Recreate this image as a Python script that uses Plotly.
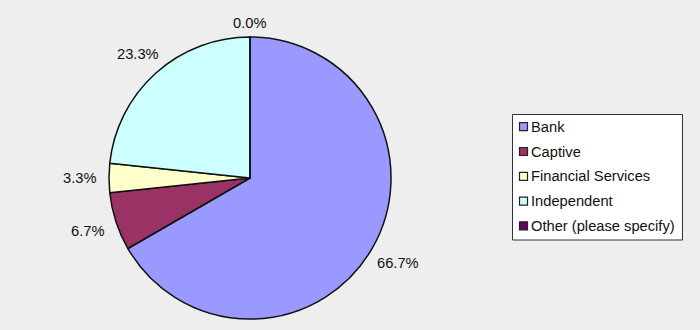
import math
import plotly.graph_objects as go

categories = ["Bank", "Captive", "Financial Services", "Independent", "Other (please specify)"]
counts = [20, 2, 1, 7, 0]
colors = ["#9999FF", "#993366", "#FFFFCC", "#CCFFFF", "#660066"]

W, H = 700, 330
cx, cy, R = 250, 178, 141  # pixel centre/radius of the pie
FONT = "Liberation Sans, Arial, sans-serif"
FS = 14.7

fig = go.Figure()
fig.add_trace(go.Pie(
    labels=categories,
    values=counts,
    marker=dict(colors=colors, line=dict(color="#111111", width=1.5)),
    sort=False,
    direction="clockwise",
    rotation=0,
    textinfo="none",
    hoverinfo="label+percent",
    domain=dict(x=[(cx - R) / W, (cx + R) / W], y=[(H - cy - R) / H, (H - cy + R) / H]),
    showlegend=False,
))

# percentage labels placed outside each slice, derived from the data
total = sum(counts)
cum = 0
annotations = []
for c in counts:
    frac = c / total
    mid = (cum + frac / 2) * 2 * math.pi
    cum += frac
    s, co = math.sin(mid), math.cos(mid)
    r = R + 10 + abs(s) * 20 + abs(co) * 4
    px = cx + r * s
    py = (H - cy) + r * co
    annotations.append(dict(
        x=px / W, y=py / H, xref="paper", yref="paper",
        text=f"{frac * 100:.1f}%", showarrow=False,
        xanchor="center", yanchor="middle",
        font=dict(family=FONT, size=FS, color="#111111"),
    ))

# legend box drawn in Excel style
def px2x(v):
    return v / W

def py2y(v):
    return (H - v) / H

shapes = [dict(type="rect", xref="paper", yref="paper",
               x0=px2x(512.5), x1=px2x(682.5), y0=py2y(114.5), y1=py2y(240),
               fillcolor="#FFFFFF", line=dict(color="#333333", width=1), layer="below")]
top, step = 126.7, 24.8
for i, (lab, col) in enumerate(zip(categories, colors)):
    yc = top + i * step
    shapes.append(dict(type="rect", xref="paper", yref="paper",
                       x0=px2x(519.5), x1=px2x(527.5), y0=py2y(yc - 4), y1=py2y(yc + 4),
                       fillcolor=col, line=dict(color="#222222", width=1.2)))
    annotations.append(dict(x=px2x(529), y=py2y(yc), xref="paper", yref="paper",
                            text=lab, showarrow=False, xanchor="left", yanchor="middle",
                            font=dict(family=FONT, size=FS, color="#111111")))

fig.update_layout(
    width=W, height=H,
    margin=dict(l=0, r=0, t=0, b=0),
    paper_bgcolor="#EEEEEE",
    plot_bgcolor="#EEEEEE",
    font=dict(family=FONT, size=FS, color="#111111"),
    annotations=annotations,
    shapes=shapes,
    showlegend=False,
)

fig.write_html("out.html")
